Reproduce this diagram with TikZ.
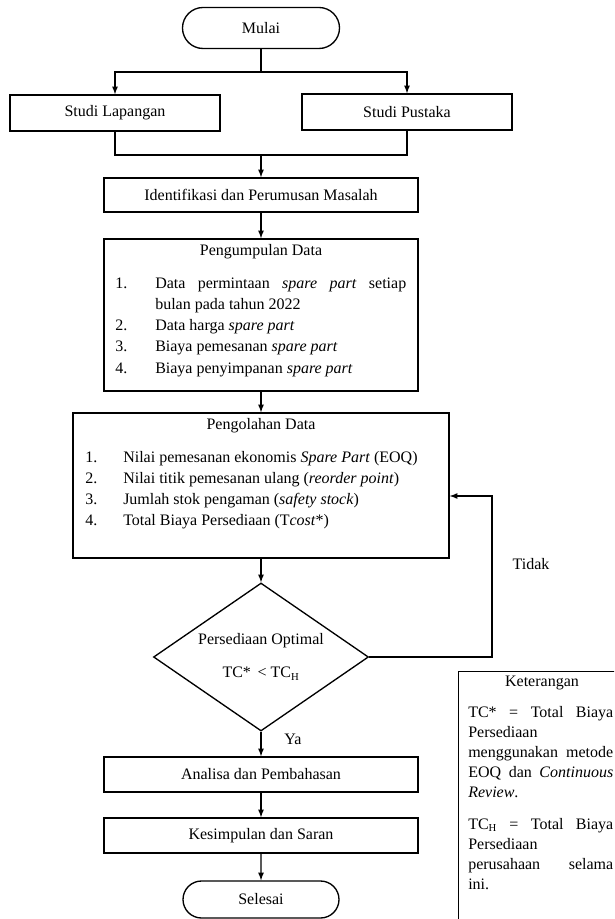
\documentclass[tikz,border=0pt]{standalone}
\usepackage{fontspec}
\setmainfont{Liberation Serif}
\usetikzlibrary{positioning,shapes.geometric,shapes.misc}
\tikzset{block/.style={draw,line width=1pt,inner sep=0pt},
         terminal/.style={draw,line width=1pt,rounded rectangle,inner sep=0pt},
         decision/.style={draw,line width=1pt,diamond,shape aspect=1.45,inner sep=0pt,align=center},
         line/.style={line width=1pt}
}
\tikzstyle{arrow} = [line width=1pt,->,>=latex]

\begin{document}
\begin{tikzpicture}[x=0.75pt,y=-0.75pt,font=\fontsize{12pt}{15.75pt}\selectfont]
\useasboundingbox (0,0) rectangle (614,919);
\clip (0,0) rectangle (614,919);

\node[terminal,minimum width=117.75pt,minimum height=30.75pt] (mulai) at (261,28) {Mulai};
\node[block,minimum width=157.5pt,minimum height=27pt] (lapangan) at (115,113) {Studi Lapangan};
\node[block,minimum width=157.5pt,minimum height=27pt] (pustaka) at (407,112) {Studi Pustaka};
\node[block,minimum width=235.5pt,minimum height=25.5pt] (ident) at (261,195) {Identifikasi dan Perumusan Masalah};
\node[block,minimum width=235.5pt,minimum height=114pt] (kumpul) at (261,315) {};
\node[anchor=base] (kumpultitle) at (261,256) {Pengumpulan Data};
\node[anchor=base west,inner sep=0pt] (kumpullist) at (115,289) {\begin{tabular}[t]{@{}p{30pt}@{}p{188.25pt}@{}}
1. & \makebox[\linewidth][s]{Data permintaan \textit{spare part} setiap}\\
   & bulan pada tahun 2022\\
2. & Data harga \textit{spare part}\\
3. & Biaya pemesanan \textit{spare part}\\
4. & Biaya penyimpanan \textit{spare part}
\end{tabular}};
\node[block,minimum width=282pt,minimum height=108.75pt] (olah) at (261,485.5) {};
\node[anchor=base] (olahtitle) at (261,429) {Pengolahan Data};
\node[anchor=base west,inner sep=0pt] (olahlist) at (85,462) {\begin{tabular}[t]{@{}p{28.5pt}@{}l@{}}
1. & Nilai pemesanan ekonomis \textit{Spare Part} (EOQ)\\
2. & Nilai titik pemesanan ulang (\textit{reorder point})\\
3. & Jumlah stok pengaman (\textit{safety stock})\\
4. & Total Biaya Persediaan (T\textit{cost}*)
\end{tabular}};
\node[decision,minimum width=161.25pt,minimum height=111pt] (dec) at (261,657) {Persediaan Optimal\\[9pt] TC*\, \textless{} TC\textsubscript{H}};
\node[block,minimum width=235.5pt,minimum height=26.25pt] (analisa) at (261,774.5) {Analisa dan Pembahasan};
\node[block,minimum width=235.5pt,minimum height=26.25pt] (simpul) at (261,835.5) {Kesimpulan dan Saran};
\node[terminal,minimum width=117pt,minimum height=27.75pt] (selesai) at (261,899.5) {Selesai};
\node (ya) at (293,739) {Ya};
\node (tidak) at (531,564) {Tidak};

% keterangan
\node[block,anchor=north west,minimum width=135pt,minimum height=210pt] (ket) at (458,671) {};
\node[anchor=base] (kettitle) at (542,686) {Keterangan};
\node[anchor=base west,inner sep=0pt,font=\fontsize{12pt}{15pt}\selectfont] (ketlist) at (468,717) {\begin{tabular}[t]{@{}p{108.75pt}@{}}
\makebox[\linewidth][s]{TC* = Total Biaya}\\
Persediaan\\
\makebox[\linewidth][s]{menggunakan metode}\\
\makebox[\linewidth][s]{EOQ dan \textit{Continuous}}\\
\textit{Review}.\\[9pt]
\makebox[\linewidth][s]{TC\textsubscript{H} = Total Biaya}\\
Persediaan\\
\makebox[\linewidth][s]{perusahaan selama}\\
ini.
\end{tabular}};

\coordinate (split) at (261,72);
\coordinate (join) at (261,155);
\coordinate (loop) at (492,496);
\draw[line] (mulai) -- (split);
\draw[arrow] (split) -| (lapangan);
\draw[arrow] (split) -| (pustaka);
\draw[line] (lapangan) |- (join);
\draw[line] (pustaka) |- (join);
\draw[arrow] (join) -- (ident);
\draw[arrow] (ident) -- (kumpul);
\draw[arrow] (kumpul) -- (olah);
\draw[arrow] (olah) -- (dec);
\draw[arrow] (dec) -- (analisa);
\draw[arrow] (analisa) -- (simpul);
\draw[arrow] (simpul) -- (selesai);
\draw[arrow] (dec.east) -| (loop) -- (loop -| olah.east);

\end{tikzpicture}
\end{document}
